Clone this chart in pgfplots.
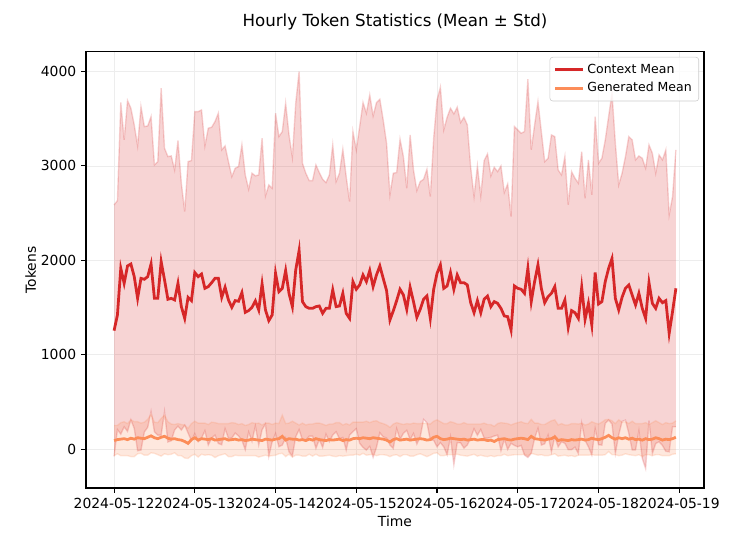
\documentclass[border=0pt]{standalone}
\usepackage{fontspec}
\setmainfont{DejaVu Sans}
\usepackage{pgfplots}
\pgfplotsset{compat=1.18}
\usepackage{pgfplotstable}
\usepgfplotslibrary{fillbetween}

\definecolor{ctx}{HTML}{D62728}
\definecolor{gen}{HTML}{FC8D59}

% hour, context mean/upper/lower, generated mean/upper/lower
\pgfplotstableread{
h cm cu cl gm gu gl
0 1255 2587 -77 90 250 -70
1 1420 2633 207 100 250 -50
2 1915 3672 158 105 280 -70
3 1756 3276 236 110 290 -70
4 1940 3693 187 100 270 -70
5 1961 3612 310 115 310 -80
6 1827 3435 219 105 290 -80
7 1597 3212 -18 120 290 -50
8 1809 3629 -11 115 275 -45
9 1799 3417 181 110 285 -65
10 1827 3424 230 125 315 -65
11 1961 3523 399 140 370 -40
12 1597 3011 183 120 285 -45
13 1597 3046 148 110 280 -60
14 1986 3824 148 125 325 -75
15 1792 3188 396 135 360 -50
16 1587 3099 75 115 290 -60
17 1597 3106 88 105 265 -55
18 1580 2958 202 110 260 -40
19 1756 3269 243 100 270 -70
20 1509 2817 201 95 260 -70
21 1385 2516 254 80 255 -95
22 1608 3046 170 60 220 -100
23 1573 3057 89 100 270 -70
24 1870 3576 164 120 295 -55
25 1827 3576 78 95 275 -85
26 1855 3594 116 110 275 -55
27 1703 3212 194 105 275 -65
28 1721 3400 42 100 260 -60
29 1763 3410 116 110 285 -65
30 1809 3470 148 95 280 -90
31 1809 3559 59 100 270 -70
32 1608 3170 46 105 270 -60
33 1714 3212 216 110 270 -50
34 1580 3046 114 95 270 -80
35 1502 2887 117 100 280 -80
36 1573 2976 170 105 275 -65
37 1566 2993 139 95 260 -70
38 1658 3223 93 100 270 -70
39 1449 2905 -7 90 250 -70
40 1467 2753 181 95 260 -70
41 1502 2923 81 105 280 -70
42 1570 2895 245 100 270 -70
43 1474 2905 43 95 275 -85
44 1749 3293 205 90 255 -75
45 1474 2682 266 105 275 -65
46 1361 2799 -77 100 275 -75
47 1421 2764 78 95 260 -70
48 1862 3559 165 105 275 -65
49 1668 3311 25 110 270 -50
50 1703 3364 42 135 360 -45
51 1891 3665 117 95 270 -80
52 1650 3329 -29 110 275 -55
53 1509 3092 -74 105 295 -85
54 1898 3665 131 105 275 -65
55 2103 4000 206 95 255 -65
56 1562 3028 96 100 275 -75
57 1509 2923 95 90 255 -75
58 1491 2845 137 105 265 -55
59 1491 2845 137 95 265 -75
60 1509 3011 7 110 275 -55
61 1516 2930 102 100 275 -75
62 1438 2859 17 95 265 -75
63 1491 2824 158 90 250 -70
64 1491 2905 77 100 265 -65
65 1686 3223 149 95 265 -75
66 1509 2834 184 100 280 -80
67 1516 2923 109 105 280 -70
68 1650 3177 123 90 255 -75
69 1438 2887 -11 100 270 -70
70 1385 2622 148 95 255 -65
71 1774 3364 184 110 285 -65
72 1693 3170 216 115 285 -55
73 1739 3417 61 110 285 -65
74 1845 3672 18 120 285 -45
75 1774 3559 -11 115 295 -65
76 1891 3753 29 110 280 -60
77 1721 3530 -88 120 295 -55
78 1845 3672 18 115 300 -70
79 1940 3707 173 110 280 -60
80 1809 3488 130 105 270 -60
81 1679 3241 117 95 255 -65
82 1368 2693 43 75 230 -80
83 1465 2923 7 100 265 -65
84 1573 2930 216 110 280 -60
85 1693 3283 103 95 270 -80
86 1633 3099 167 100 260 -60
87 1481 2764 198 105 270 -60
88 1714 3329 99 95 265 -75
89 1562 2958 166 100 275 -75
90 1396 2739 53 105 270 -60
91 1481 2834 128 110 270 -50
92 1587 2859 315 105 275 -65
93 1622 2965 279 95 270 -80
94 1385 2675 95 100 265 -65
95 1693 3293 93 125 295 -45
96 1862 3700 24 135 310 -40
97 1951 3834 68 110 290 -70
98 1703 3382 24 100 270 -70
99 1728 3516 -60 105 270 -60
100 1870 3612 128 115 290 -60
101 1693 3552 -166 110 280 -60
102 1845 3622 68 105 265 -55
103 1763 3460 66 100 265 -65
104 1763 3516 10 105 280 -70
105 1739 3435 43 95 265 -75
106 1551 2986 116 100 265 -65
107 1445 2675 215 105 265 -55
108 1573 3000 146 95 265 -75
109 1445 2682 208 100 265 -65
110 1587 3057 117 100 275 -75
111 1622 3128 116 90 260 -80
112 1509 2894 124 95 260 -70
113 1562 2986 138 80 240 -80
114 1544 2940 148 100 270 -70
115 1491 3000 -18 105 280 -70
116 1410 2718 102 110 275 -55
117 1403 2810 -4 100 270 -70
118 1262 2463 61 95 255 -65
119 1728 3417 39 105 270 -60
120 1703 3382 24 110 280 -60
121 1693 3347 39 115 290 -60
122 1650 3364 -64 110 275 -55
123 1915 3919 -89 100 270 -70
124 1562 3170 -46 135 315 -45
125 1774 3435 113 110 275 -55
126 1951 3682 220 105 275 -65
127 1703 3364 42 100 260 -60
128 1551 3046 56 95 260 -70
129 1615 3082 148 105 280 -70
130 1650 3329 -29 110 300 -60
131 1721 3311 131 130 310 -50
132 1491 2958 24 90 255 -75
133 1491 2905 77 100 270 -70
134 1580 3099 61 95 255 -65
135 1290 2587 -7 90 255 -75
136 1467 2940 -6 100 270 -70
137 1445 2870 20 95 270 -80
138 1385 2817 -47 100 265 -65
139 1714 3152 276 105 275 -65
140 1375 2658 92 95 255 -65
141 1544 3064 24 100 265 -65
142 1315 2693 -63 115 290 -60
143 1870 3523 217 105 275 -65
144 1537 3028 46 100 265 -65
145 1562 3082 42 110 285 -65
146 1774 3276 272 125 310 -60
147 1915 3523 307 145 315 -25
148 2018 3770 266 120 300 -60
149 1597 3241 -47 105 270 -60
150 1474 2799 149 120 310 -70
151 1608 2923 293 110 285 -65
152 1703 3099 307 120 290 -50
153 1739 3311 167 105 270 -60
154 1633 3276 -10 115 295 -65
155 1527 3064 -10 100 270 -70
156 1650 3106 194 105 270 -60
157 1491 3082 -100 95 270 -80
158 1385 2976 -206 110 280 -60
159 1763 3223 303 100 260 -60
160 1544 3135 -47 105 280 -70
161 1491 2923 59 120 300 -60
162 1597 3117 77 110 280 -60
163 1551 3064 38 95 260 -70
164 1573 3170 -24 105 280 -70
165 1226 2481 -29 100 270 -70
166 1456 2675 237 110 275 -55
167 1703 3170 236 125 300 -50
}\hourly

\begin{document}
\begin{tikzpicture}
\begin{axis}[
    at={(0,0)}, anchor=south west,
    width=445pt, height=314pt, scale only axis,
    xmin=-8.35, xmax=175.35,
    ymin=-413, ymax=4208,
    xtick={0,24,...,168},
    xticklabels={2024-05-12,2024-05-13,2024-05-14,2024-05-15,2024-05-16,2024-05-17,2024-05-18,2024-05-19},
    ytick={0,1000,2000,3000,4000},
    /pgf/number format/1000 sep={},
    /pgf/number format/assume math mode=true,
    tick label style={font=\fontsize{10}{12}\selectfont},
    tick pos=left, tick align=outside,
    major tick length=3.5pt,
    tick style={black, line width=0.8pt},
    axis line style={black, line width=0.8pt},
    grid=major,
    major grid style={black!7, line width=0.6pt},
    every axis title shift=0pt,
    title={Hourly Token Statistics (Mean ± Std)},
    title style={font=\fontsize{12}{14}\selectfont, at={(axis description cs:0.5,1.0573)}, anchor=base},
    xlabel={Time},
    xlabel style={font=\fontsize{10}{12}\selectfont, at={(axis description cs:0.5,-0.0892)}, anchor=base},
    ylabel={Tokens},
    ylabel style={font=\fontsize{10}{12}\selectfont, at={(axis description cs:-0.081,0.5)}, anchor=base},
    legend style={at={(axis description cs:1,1)}, anchor=north east, xshift=-3.6pt, yshift=-3.6pt,
        draw=black!20, rounded corners=2pt, fill=white, fill opacity=0.8, text opacity=1,
        font=\fontsize{9}{11}\selectfont, row sep=1pt, inner sep=3pt},
    legend cell align=left,
    legend image code/.code={\draw[#1] (0pt,0pt) -- (20pt,0pt);},
]
\addplot[forget plot, name path=cu, draw=ctx, draw opacity=0.2, line width=1pt] table[x=h, y=cu] {\hourly};
\addplot[forget plot, name path=cl, draw=ctx, draw opacity=0.2, line width=1pt] table[x=h, y=cl] {\hourly};
\addplot[forget plot, fill=ctx, fill opacity=0.2, draw=none] fill between[of=cu and cl];
\addplot[forget plot, name path=gu, draw=gen, draw opacity=0.2, line width=1pt] table[x=h, y=gu] {\hourly};
\addplot[forget plot, name path=gl, draw=gen, draw opacity=0.2, line width=1pt] table[x=h, y=gl] {\hourly};
\addplot[forget plot, fill=gen, fill opacity=0.2, draw=none] fill between[of=gu and gl];
\addplot[ctx, line width=2pt] table[x=h, y=cm] {\hourly};
\addlegendentry{Context Mean}
\addplot[gen, line width=2pt] table[x=h, y=gm] {\hourly};
\addlegendentry{Generated Mean}
\end{axis}
\pgfresetboundingbox
\path[use as bounding box] (-61.9pt,-34.6pt) rectangle (466.6pt,351.4pt);
\end{tikzpicture}
\end{document}
